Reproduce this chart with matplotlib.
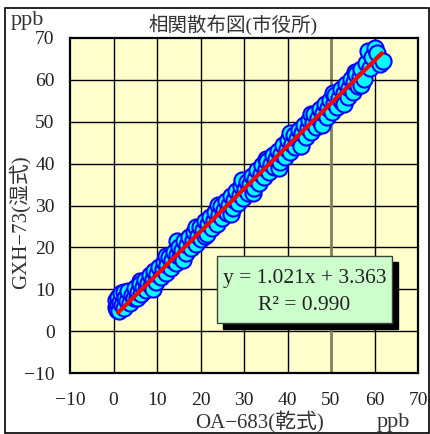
import matplotlib
matplotlib.use("Agg")
import matplotlib.pyplot as plt
from matplotlib.patches import Rectangle
import numpy as np

plt.rcParams['font.family'] = ['Liberation Serif', 'Noto Sans CJK JP', 'DejaVu Sans']

title = "相関散布図(市役所)"
xlabel = "OA-683(乾式)"
ylabel = "GXH-73(湿式)"
unit = "ppb"
eq_text = "y = 1.021x + 3.363"
r2_text = "R² = 0.990"
slope, intercept = 1.021, 3.363
ticks = [-10, 0, 10, 20, 30, 40, 50, 60, 70]

x_vals = [0.5, 0.6, 0.8, 1.0, 1.1, 1.3, 1.5, 1.8, 2.0, 2.3, 2.5, 2.6, 3.0, 3.4, 3.8, 4.2, 4.6,
          5.0, 5.3, 5.7, 6.0, 6.1, 6.4, 6.8, 7.2, 7.5, 7.9, 8.3, 8.6, 9.0, 9.0, 9.4, 9.8, 10.1, 10.5,
          10.9, 11.3, 11.6, 12.0, 12.0, 12.4, 12.8, 13.2, 13.5, 13.9, 14.3, 14.6, 14.7, 15.1, 15.4, 15.8,
          16.0, 16.2, 16.6, 17.0, 17.4, 17.8, 18.2, 18.6, 19.0, 19.0, 19.4, 19.8, 20.2, 20.6, 21.0, 21.0, 21.4,
          21.8, 22.2, 22.6, 23.0, 23.4, 23.8, 24.0, 24.2, 24.6, 25.0, 25.4, 25.8, 26.2, 26.6, 27.0, 27.0,
          27.4, 27.8, 28.2, 28.6, 29.0, 29.4, 29.5, 29.8, 30.2, 30.6, 31.0, 31.4, 31.8, 32.0, 32.2, 32.6,
          33.0, 33.4, 33.8, 34.2, 34.6, 35.0, 35.0, 35.4, 35.8, 36.2, 36.6, 37.0, 37.4, 37.8, 38.0, 38.2,
          38.6, 39.0, 39.4, 39.8, 40.2, 40.5, 40.6, 41.0, 41.4, 41.8, 42.2, 42.6, 43.0, 43.0, 43.4, 43.8,
          44.2, 44.6, 45.0, 45.4, 45.5, 45.8, 46.2, 46.6, 47.0, 47.4, 47.8, 48.0, 48.2, 48.6, 49.0, 49.4,
          49.8, 50.2, 50.5, 50.6, 51.0, 51.4, 51.8, 52.2, 52.6, 53.0, 53.0, 53.4, 53.8, 54.2, 54.6, 55.0,
          55.4, 55.5, 55.8, 56.2, 56.6, 57.0, 57.0, 57.5, 58.0, 58.5, 59.0, 59.5, 60.0, 60.6, 61.2, 62.0]
y_vals = [5.8, 7.5, 5.0, 6.5, 8.2, 4.8, 7.0, 9.0, 6.2, 5.5, 9.3, 8.0, 7.2, 9.5, 6.8, 8.6, 7.9,
          10.2, 8.0, 9.4, 12.0, 11.2, 8.9, 10.6, 12.3, 9.8, 11.5, 13.4, 10.7, 12.4, 10.0, 14.3, 11.8, 13.6, 15.2,
          12.9, 14.8, 16.6, 14.0, 18.0, 15.9, 17.8, 15.1, 17.0, 18.9, 16.3, 21.5, 18.1, 20.2, 17.6, 19.4,
          16.9, 21.5, 18.7, 20.6, 22.4, 19.8, 21.7, 23.6, 20.9, 24.9, 22.8, 24.9, 22.0, 24.1, 26.2, 22.6, 23.3,
          25.5, 27.3, 24.6, 26.6, 28.4, 25.7, 30.2, 27.8, 29.8, 26.9, 29.0, 31.0, 28.2, 30.1, 32.3, 28.0,
          29.3, 31.4, 33.5, 30.6, 32.6, 34.6, 36.2, 31.7, 33.9, 35.7, 33.0, 35.1, 37.1, 33.0, 34.2, 36.3,
          38.5, 35.4, 37.6, 39.6, 36.7, 38.8, 41.2, 40.7, 37.9, 40.0, 42.0, 39.1, 41.2, 43.1, 39.0, 40.3,
          42.4, 44.4, 41.5, 43.6, 45.6, 47.2, 42.7, 44.8, 46.9, 43.9, 46.0, 48.0, 45.1, 44.2, 47.2, 49.3,
          46.3, 48.4, 50.5, 47.5, 51.8, 49.6, 51.8, 48.7, 50.9, 53.0, 49.9, 49.2, 52.1, 54.2, 51.1, 53.3,
          55.3, 52.4, 56.8, 54.5, 56.5, 53.6, 55.7, 57.8, 54.8, 56.9, 54.2, 59.0, 56.0, 58.1, 60.2, 57.2,
          59.4, 61.8, 61.5, 58.5, 60.6, 62.7, 58.8, 60.1, 64.0, 66.8, 62.8, 65.5, 67.5, 66.5, 63.8, 64.4]
line_x = [0.8, 62.0]

W, H = 430, 434
fig = plt.figure(figsize=(W / 100, H / 100), dpi=100)
fig.patch.set_facecolor('white')
fig.patches.append(Rectangle((5 / W, 1 / H), 423.5 / W, 425 / H, transform=fig.transFigure,
                             fill=False, edgecolor='black', linewidth=1.2))

ax = fig.add_axes([70 / W, 61 / H, 348 / W, 335 / H])
ax.set_facecolor('#FFFFCC')
ax.set_xlim(-10, 70)
ax.set_ylim(-10, 70)
ax.set_xticks(ticks)
ax.set_yticks(ticks)
for t in ticks[1:-1]:
    c = '#808060' if t == 50 else 'black'
    lw = 2.0 if t == 50 else 1.0
    ax.axvline(t, color=c, lw=lw, zorder=1)
    ax.axhline(t, color='black', lw=1.0, zorder=1)
for s in ax.spines.values():
    s.set_linewidth(1.6)
ax.tick_params(axis='x', length=0, pad=14, labelsize=14, labelcolor='#222222')
ax.tick_params(axis='y', length=0, pad=11, labelsize=14, labelcolor='#222222')
ax.set_xticklabels([str(t).replace('-', '−') for t in ticks])
ax.set_yticklabels([str(t).replace('-', '−') for t in ticks])

ax.scatter(x_vals, y_vals, s=135, facecolor='#00FFFF', edgecolor='#0000FF', linewidth=1.5, zorder=3)
ly = [slope * v + intercept for v in line_x]
ax.plot(line_x, ly, color='#FF0000', lw=3, zorder=4, solid_capstyle='butt')

# equation box with shadow
bx0, by0, bw, bh = 217, 256, 175, 67
fig.patches.append(Rectangle(((bx0 + 6) / W, (H - by0 - bh - 6) / H), bw / W, bh / H,
                             transform=fig.transFigure, facecolor='black', edgecolor='black', zorder=5))
fig.patches.append(Rectangle((bx0 / W, (H - by0 - bh) / H), bw / W, bh / H,
                             transform=fig.transFigure, facecolor='#CCFFCC', edgecolor='#404040',
                             linewidth=1.0, zorder=6))
fig.text((bx0 + bw / 2) / W, 1 - 278 / H, eq_text, ha='center', va='center', fontsize=15.5,
         color='#222222', zorder=7)
fig.text((bx0 + bw / 2) / W, 1 - 306 / H, r2_text, ha='center', va='center', fontsize=15.5,
         color='#222222', zorder=7)

fig.text(233 / W, 1 - 25 / H, title, ha='center', va='center', fontsize=14, color='#333333')
fig.text(11 / W, 1 - 20 / H, unit, ha='left', va='center', fontsize=16, color='#333333')
fig.text(377 / W, 1 - 423 / H, unit, ha='left', va='center', fontsize=16, color='#333333')
fig.text(259 / W, 1 - 421 / H, xlabel.replace('-', '−'), ha='center', va='center', fontsize=15,
         color='#333333')
fig.text(20 / W, 1 - 222 / H, ylabel.replace('-', '−'), ha='center', va='center', rotation=90,
         fontsize=15, color='#333333')

fig.savefig('out.png', dpi=100)
